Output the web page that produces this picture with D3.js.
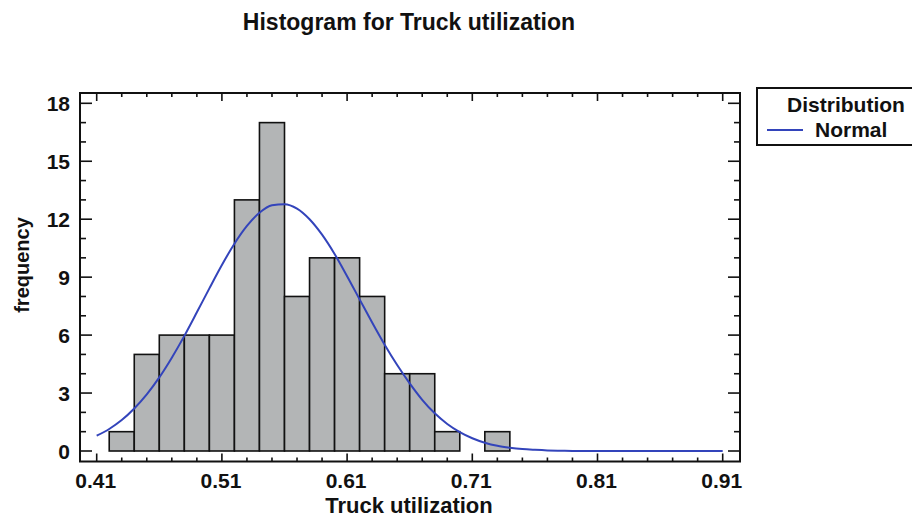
<!DOCTYPE html>
<meta charset="utf-8">
<style>
body { margin: 0; background: white; }
text { font-family: "Liberation Sans", Arial, sans-serif; font-weight: bold; fill: #111; }
</style>
<body>
<script src="https://d3js.org/d3.v7.min.js"></script>
<script>

const width = 912
const height = 520

// histogram bins (lower edge) and counts
const binStarts = [0.42, 0.44, 0.46, 0.48, 0.50, 0.52, 0.54, 0.56, 0.58, 0.60, 0.62, 0.64, 0.66, 0.68, 0.70, 0.72]
const binWidth = 0.02
const counts = [1, 5, 6, 6, 6, 13, 17, 8, 10, 10, 8, 4, 4, 1, 0, 1]

// fitted normal curve
const curveX = [0.41, 0.42, 0.43, 0.44, 0.45, 0.46, 0.47, 0.48, 0.49, 0.50, 0.51, 0.52, 0.53, 0.54, 0.55, 0.56, 0.57, 0.58, 0.59, 0.60,
  0.61, 0.62, 0.63, 0.64, 0.65, 0.66, 0.67, 0.68, 0.69, 0.70, 0.71, 0.72, 0.73, 0.74, 0.75, 0.76, 0.77, 0.78, 0.79, 0.80, 0.91]
const curveY = [0.79, 1.14, 1.6, 2.2, 2.93, 3.81, 4.83, 5.96, 7.18, 8.42, 9.63, 10.73, 11.65, 12.33, 12.72, 12.78, 12.55, 12.0, 11.2, 10.2,
  9.05, 7.85, 6.65, 5.5, 4.45, 3.5, 2.65, 1.95, 1.4, 0.98, 0.66, 0.43, 0.27, 0.17, 0.1, 0.06, 0.03, 0.015, 0.005, 0, 0]

const xTicks = [0.41, 0.51, 0.61, 0.71, 0.81, 0.91]
const yTicks = [0, 3, 6, 9, 12, 15, 18]

const svg = d3.select("body").append("svg")
  .attr("width", width)
  .attr("height", height)

// plot frame
const frame = { left: 80, right: 740, top: 93, bottom: 461.5 }

const x = d3.scaleLinear().domain([0.41, 0.91]).range([96.7, 722.7])
const y = d3.scaleLinear().domain([0, 18]).range([451, 103.3])

// bars
svg.append("g")
  .selectAll("rect")
  .data(counts)
  .join("rect")
  .attr("x", (d, i) => x(binStarts[i]))
  .attr("width", (d, i) => x(binStarts[i] + binWidth) - x(binStarts[i]))
  .attr("y", d => y(d))
  .attr("height", d => y(0) - y(d))
  .attr("fill", d => d > 0 ? "#b3b5b6" : "none")
  .attr("stroke", d => d > 0 ? "#111" : "none")
  .attr("stroke-width", 1.6)

// normal curve
const line = d3.line()
  .x((d, i) => x(curveX[i]))
  .y(d => y(d))
  .curve(d3.curveMonotoneX)

svg.append("path")
  .datum(curveY)
  .attr("d", line)
  .attr("fill", "none")
  .attr("stroke", "#3344bb")
  .attr("stroke-width", 2)

// frame box
svg.append("rect")
  .attr("x", frame.left)
  .attr("y", frame.top)
  .attr("width", frame.right - frame.left)
  .attr("height", frame.bottom - frame.top)
  .attr("fill", "none")
  .attr("stroke", "#111")
  .attr("stroke-width", 2)

// y ticks, every unit, inward on both sides
const yAll = d3.range(0, 19)
const ticks = svg.append("g").attr("stroke", "#111").attr("stroke-width", 1.6)
yAll.forEach(v => {
  const len = v % 3 === 0 ? 12 : 6
  ticks.append("line").attr("x1", frame.left).attr("x2", frame.left + len).attr("y1", y(v)).attr("y2", y(v))
  ticks.append("line").attr("x1", frame.right).attr("x2", frame.right - len).attr("y1", y(v)).attr("y2", y(v))
})
// x ticks every 0.02, inward on top and bottom
d3.range(0, 26).forEach(k => {
  const v = 0.41 + k * 0.02
  const major = k % 5 === 0
  const len = major ? 8 : 4
  ticks.append("line").attr("x1", x(v)).attr("x2", x(v)).attr("y1", frame.bottom).attr("y2", frame.bottom - len)
  ticks.append("line").attr("x1", x(v)).attr("x2", x(v)).attr("y1", frame.top).attr("y2", frame.top + len)
})

// tick labels
svg.append("g").selectAll("text")
  .data(yTicks)
  .join("text")
  .attr("x", 70)
  .attr("y", d => y(d) + 7.5)
  .attr("text-anchor", "end")
  .style("font-size", "21px")
  .text(d => d)

svg.append("g").selectAll("text")
  .data(xTicks)
  .join("text")
  .attr("x", d => x(d) - 1)
  .attr("y", 488)
  .attr("text-anchor", "middle")
  .style("font-size", "21px")
  .text(d => d.toFixed(2))

// titles
svg.append("text")
  .attr("x", 409).attr("y", 30)
  .attr("text-anchor", "middle")
  .style("font-size", "23px")
  .text("Histogram for Truck utilization")

svg.append("text")
  .attr("x", 409).attr("y", 513)
  .attr("text-anchor", "middle")
  .style("font-size", "22px")
  .text("Truck utilization")

svg.append("text")
  .attr("transform", "translate(29,265) rotate(-90)")
  .attr("text-anchor", "middle")
  .style("font-size", "20px")
  .text("frequency")

// legend
const lg = svg.append("g")
lg.append("rect")
  .attr("x", 757).attr("y", 88)
  .attr("width", 170).attr("height", 57)
  .attr("fill", "white")
  .attr("stroke", "#111")
  .attr("stroke-width", 2)
lg.append("text")
  .attr("x", 846).attr("y", 112)
  .attr("text-anchor", "middle")
  .style("font-size", "21px")
  .text("Distribution")
lg.append("line")
  .attr("x1", 767).attr("x2", 803).attr("y1", 130).attr("y2", 130)
  .attr("stroke", "#3344bb").attr("stroke-width", 2)
lg.append("text")
  .attr("x", 815).attr("y", 137)
  .style("font-size", "21px")
  .text("Normal")

</script>
</body>
